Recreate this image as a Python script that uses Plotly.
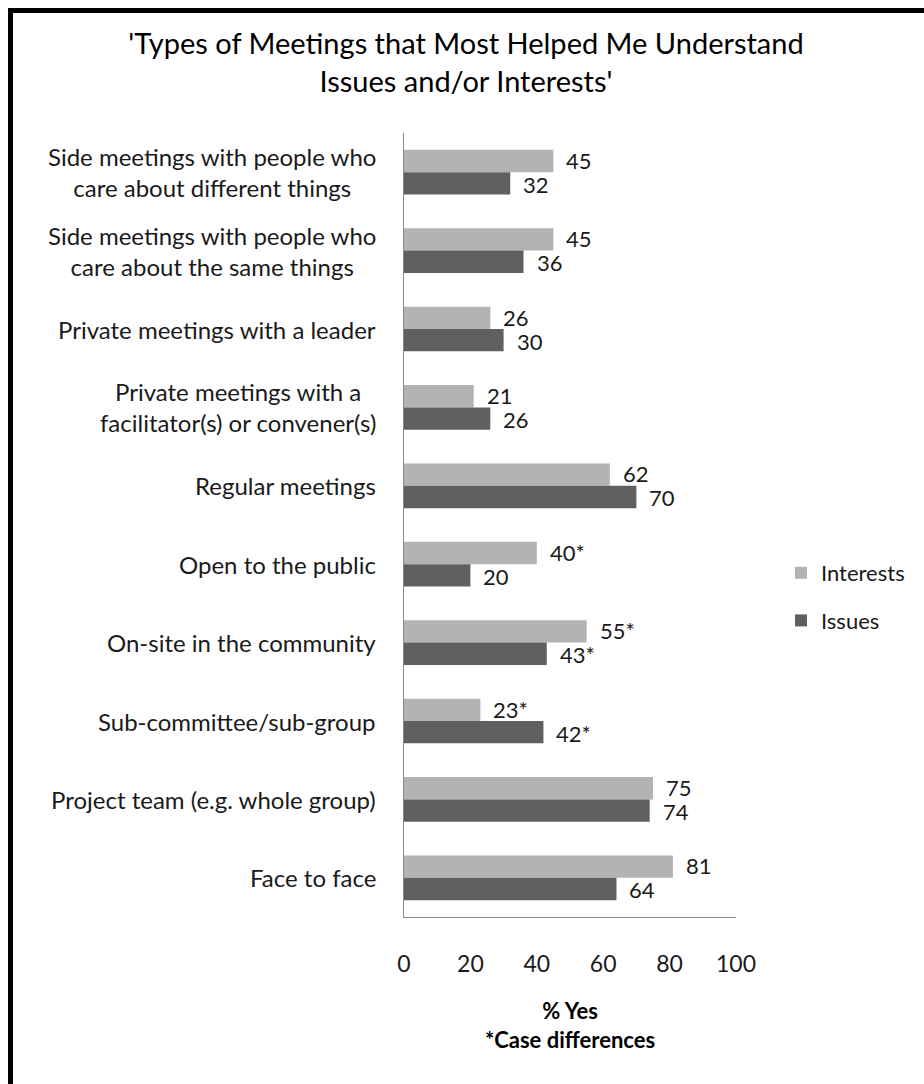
import plotly.graph_objects as go

categories = [
    "Side meetings with people who<br>care about different things",
    "Side meetings with people who<br>care about the same things",
    "Private meetings with a leader",
    "Private meetings with a<br>facilitator(s) or convener(s)",
    "Regular meetings",
    "Open to the public",
    "On-site in the community",
    "Sub-committee/sub-group",
    "Project team (e.g. whole group)",
    "Face to face",
]
interests = [45, 45, 26, 21, 62, 40, 55, 23, 75, 81]
issues = [32, 36, 30, 26, 70, 20, 43, 42, 74, 64]
interests_labels = ["45", "45", "26", "21", "62", "40*", "55*", "23*", "75", "81"]
issues_labels = ["32", "36", "30", "26", "70", "20", "43*", "42*", "74", "64"]
x_ticks = [0, 20, 40, 60, 80, 100]

FONT = "Lato"
TXT = "#1a1a1a"

W, H = 924, 1084
L, R, T, B = 404, 736, 133, 917

fig = go.Figure()
fig.add_trace(go.Bar(y=categories, x=interests, orientation="h", name="Interests",
                     marker=dict(color="#b3b3b3", line=dict(width=0)), legendgroup="a"))
fig.add_trace(go.Bar(y=categories, x=issues, orientation="h", name="Issues",
                     marker=dict(color="#606060", line=dict(width=0)), legendgroup="b"))

ann = []
for c in categories:
    ann.append(dict(xref="paper", yref="y", x=0, y=c, text=c, showarrow=False,
                    xanchor="right", yanchor="middle", xshift=-26, align="center",
                    font=dict(family=FONT, size=24, color=TXT)))
for c, v, t in zip(categories, interests, interests_labels):
    ann.append(dict(xref="x", yref="y", x=v, y=c, text=t, showarrow=False,
                    xanchor="left", yanchor="middle", xshift=11, yshift=12,
                    font=dict(family=FONT, size=22, color=TXT)))
for c, v, t in zip(categories, issues, issues_labels):
    ann.append(dict(xref="x", yref="y", x=v, y=c, text=t, showarrow=False,
                    xanchor="left", yanchor="middle", xshift=11, yshift=-12,
                    font=dict(family=FONT, size=22, color=TXT)))

def px_x(p):
    return (p - L) / (R - L)

def px_y(p):
    return (B - p) / (B - T)

shapes = [
    dict(type="line", xref="paper", yref="paper", x0=px_x(10.5), x1=px_x(10.5),
         y0=px_y(8), y1=px_y(1100), line=dict(color="black", width=5)),
    dict(type="line", xref="paper", yref="paper", x0=px_x(8), x1=px_x(940),
         y0=px_y(10.5), y1=px_y(10.5), line=dict(color="black", width=5)),
]

fig.update_layout(
    width=W, height=H,
    margin=dict(l=L, r=W - R, t=T, b=H - B, pad=0),
    paper_bgcolor="white", plot_bgcolor="white",
    barmode="group", bargap=0.43, bargroupgap=0,
    title=dict(text="'Types of Meetings that Most Helped Me Understand<br>Issues and/or Interests'",
               x=466 / W, xanchor="center", y=1 - 54 / H, yanchor="middle",
               font=dict(family=FONT, size=29, color="black")),
    font=dict(family=FONT, size=22, color=TXT),
    showlegend=True,
    legend=dict(x=px_x(781), xanchor="left", y=px_y(597), yanchor="middle",
                font=dict(family=FONT, size=22, color=TXT), tracegroupgap=16,
                bgcolor="rgba(0,0,0,0)"),
    annotations=ann,
    shapes=shapes,
)
fig.update_xaxes(range=[0, 100], tickvals=x_ticks, showgrid=False, zeroline=False,
                 showline=True, linecolor="#8c8c8c", linewidth=1, ticks="",
                 ticklabelstandoff=26, tickfont=dict(family=FONT, size=23, color=TXT),
                 title=dict(text="<b>% Yes</b><br><b>*Case differences</b>",
                            font=dict(family=FONT, size=22, color="black"), standoff=28),
                 fixedrange=True)
fig.update_yaxes(autorange="reversed", showticklabels=False, showgrid=False, zeroline=False,
                 showline=True, linecolor="#8c8c8c", linewidth=1, ticks="", fixedrange=True)

fig.write_html("out.html")
